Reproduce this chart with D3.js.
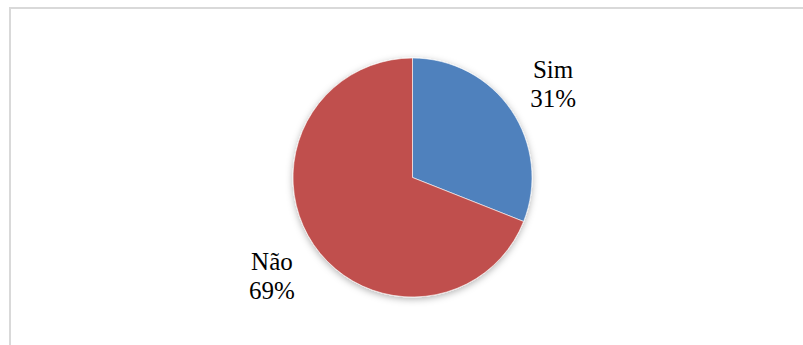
<!DOCTYPE html>
<html>
<head>
<meta charset="utf-8">
<script src="https://cdn.jsdelivr.net/npm/d3@7/dist/d3.min.js"></script>
<style>
  html, body { margin: 0; padding: 0; background: #ffffff; }
  svg { display: block; }
  text.lbl { font-family: "Liberation Serif", "Times New Roman", Times, serif; }
</style>
</head>
<body>
<svg id="chart" width="803" height="345"></svg>
<script>
// Answers and their shares (%)
const categories = ["Sim", "Não"];
const values = [31, 69];
const colors = ["#4F81BD", "#C0504D"];

const width = 803, height = 345;
const cx = 412.5, cy = 177.5, radius = 119.5;
const labelRadius = 170;
const fontSize = 25, lineGap = 29;

const svg = d3.select("#chart");

// Chart frame
svg.append("rect")
  .attr("x", 10).attr("y", 8)
  .attr("width", width).attr("height", height)
  .attr("fill", "none")
  .attr("stroke", "#d9d9d9")
  .attr("stroke-width", 2);

// Soft shadow under the pie
const defs = svg.append("defs");
const f = defs.append("filter").attr("id", "pieShadow")
  .attr("x", "-20%").attr("y", "-20%").attr("width", "140%").attr("height", "140%");
f.append("feDropShadow")
  .attr("dx", 0).attr("dy", 2)
  .attr("stdDeviation", 3.5)
  .attr("flood-color", "#000")
  .attr("flood-opacity", 0.3);

const data = categories.map((c, i) => ({ name: c, value: values[i], color: colors[i] }));

const pie = d3.pie().sort(null).value(d => d.value);
const arcs = pie(data);
const arc = d3.arc().innerRadius(0).outerRadius(radius);
const labelArc = d3.arc().innerRadius(labelRadius).outerRadius(labelRadius);

const g = svg.append("g").attr("transform", `translate(${cx},${cy})`);

g.append("g").attr("filter", "url(#pieShadow)")
  .selectAll("path")
  .data(arcs)
  .join("path")
  .attr("d", arc)
  .attr("fill", d => d.data.color)
  .attr("stroke", "#ffffff")
  .attr("stroke-width", 0.6);

// Category name and percentage outside each slice
const total = d3.sum(values);
const labels = g.selectAll("text.lbl")
  .data(arcs)
  .join("text")
  .attr("class", "lbl")
  .attr("text-anchor", "middle")
  .attr("font-size", fontSize)
  .attr("fill", "#000");

labels.each(function(d) {
  const [x, y] = labelArc.centroid(d);
  const t = d3.select(this);
  t.append("tspan").attr("x", x).attr("y", y - lineGap / 2 + 11).text(d.data.name);
  t.append("tspan").attr("x", x).attr("y", y + lineGap / 2 + 11)
    .text(Math.round(d.data.value / total * 100) + "%");
});
</script>
</body>
</html>
